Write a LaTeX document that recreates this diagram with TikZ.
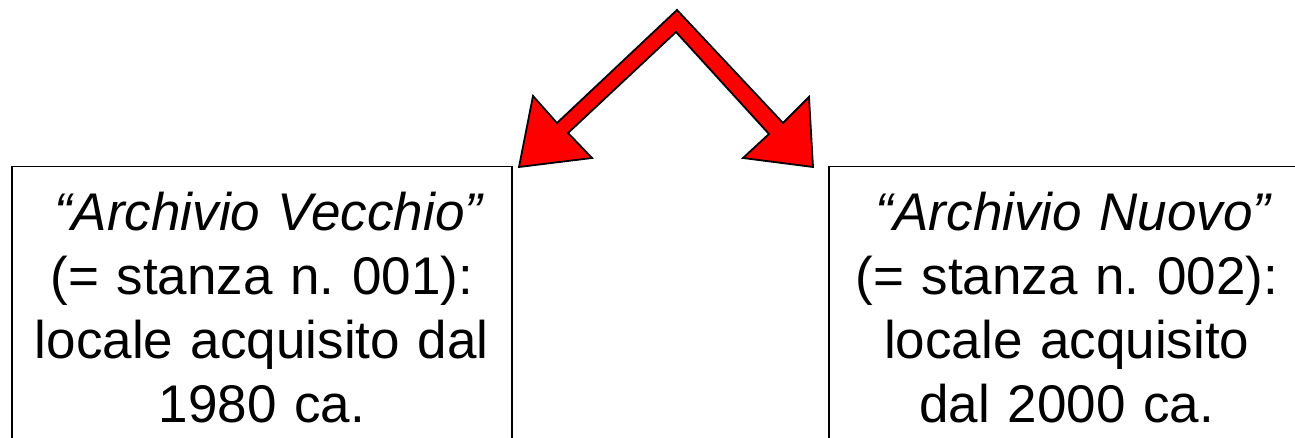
\documentclass[tikz,border=0pt]{standalone}
\usepackage{fontspec}
\setmainfont{Liberation Sans}
\frenchspacing
\begin{document}
\begin{tikzpicture}[x=1pt, y=1pt]

\tikzset{roombox/.style={draw, line width=1.5pt, rectangle, anchor=north west, inner xsep=0pt, inner ysep=25pt, align=center, font=\fontsize{53}{64}\selectfont}}
\tikzset{splitarrow/.style={draw=black, line width=1.8pt, fill=red, line join=miter}}

\useasboundingbox (0, 0) rectangle (1295, 438);

% the two rooms
\node[roombox, text width=500pt] at ( 11, 272) (old) {\hspace*{0.28em}\textit{``Archivio Vecchio''}\\(= stanza n. 001):\\locale acquisito dal\\1980 ca.};
\node[roombox, text width=476pt] at (828, 272) (new) {\hspace*{0.28em}\textit{``Archivio Nuovo''}\\(= stanza n. 002):\\locale acquisito\\dal 2000 ca.};

% split arrow
\coordinate (top) at (677, 428);
\coordinate (ltip) at (519, 271);
\coordinate (rtip) at (813, 271);
\draw[splitarrow] (top) -- (557, 315) -- (533, 342) -- (ltip) -- (592, 280) -- (568, 305)
  -- (676, 406) -- (769, 304) -- (743, 280) -- (rtip) -- (809, 341) -- (783, 315) -- cycle;

\end{tikzpicture}
\end{document}
